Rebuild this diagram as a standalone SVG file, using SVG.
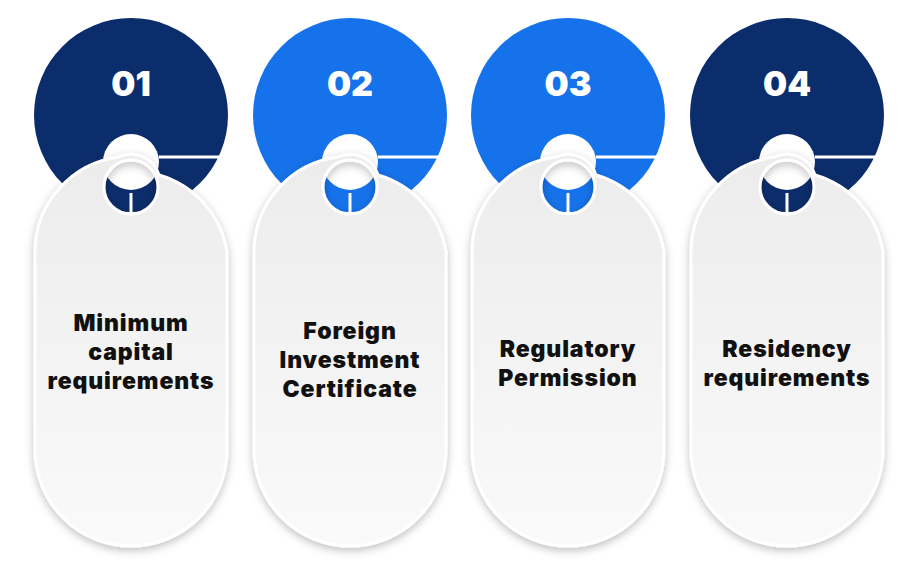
<svg xmlns="http://www.w3.org/2000/svg" width="900" height="572" viewBox="0 0 900 572">
<style>
.num{font-family:Inter,"Liberation Sans",sans-serif;font-weight:900;font-size:34px;fill:#fff;text-anchor:middle}
.lbl{font-family:Inter,"Liberation Sans",sans-serif;font-weight:900;font-size:23px;letter-spacing:0.9px;fill:#111;text-anchor:middle}
.card{fill:url(#g);stroke:#fff;stroke-width:3;filter:url(#sh);fill-rule:evenodd}
</style>
<defs>
<linearGradient id="g" x1="0" y1="0" x2="0" y2="1"><stop offset="0" stop-color="#ececec"/><stop offset="1" stop-color="#fafafa"/></linearGradient>
<filter id="sh" x="-20%" y="-10%" width="140%" height="130%"><feDropShadow dx="0" dy="3" stdDeviation="4" flood-color="#000" flood-opacity="0.25"/></filter>
<g id="tag">
<circle cx="0" cy="0" r="97"/>
<line x1="28" y1="42" x2="97" y2="42" stroke="#fff" stroke-width="3"/>
<circle cx="0" cy="47" r="28" fill="#fff"/>
<path class="card" d="M-96,137 A96,96 0 0 1 -12,42 A29,29 0 0 1 28,60 A96,96 0 0 1 96,137 V335 A95,95 0 0 1 -96,335 Z M-27,72 A27,27 0 1 0 27,72 A27,27 0 1 0 -27,72 Z"/>
<line x1="0" y1="78" x2="0" y2="97" stroke="#fff" stroke-width="3"/>
</g>
</defs>
<g id="n1"><use href="#tag" x="131" y="115" fill="#0c2d6b"/><text class="num" x="131" y="96">01</text>
<text class="lbl" x="131" y="331">Minimum</text><text class="lbl" x="131" y="360">capital</text><text class="lbl" x="131" y="389">requirements</text></g>
<g id="n2"><use href="#tag" x="350" y="115" fill="#1672ea"/><text class="num" x="350" y="96">02</text>
<text class="lbl" x="350" y="339">Foreign</text><text class="lbl" x="350" y="368">Investment</text><text class="lbl" x="350" y="397">Certificate</text></g>
<g id="n3"><use href="#tag" x="568" y="115" fill="#1672ea"/><text class="num" x="568" y="96">03</text>
<text class="lbl" x="568" y="357">Regulatory</text><text class="lbl" x="568" y="386">Permission</text></g>
<g id="n4"><use href="#tag" x="787" y="115" fill="#0c2d6b"/><text class="num" x="787" y="96">04</text>
<text class="lbl" x="787" y="357">Residency</text><text class="lbl" x="787" y="386">requirements</text></g>
<g id="connectors"/>
</svg>
